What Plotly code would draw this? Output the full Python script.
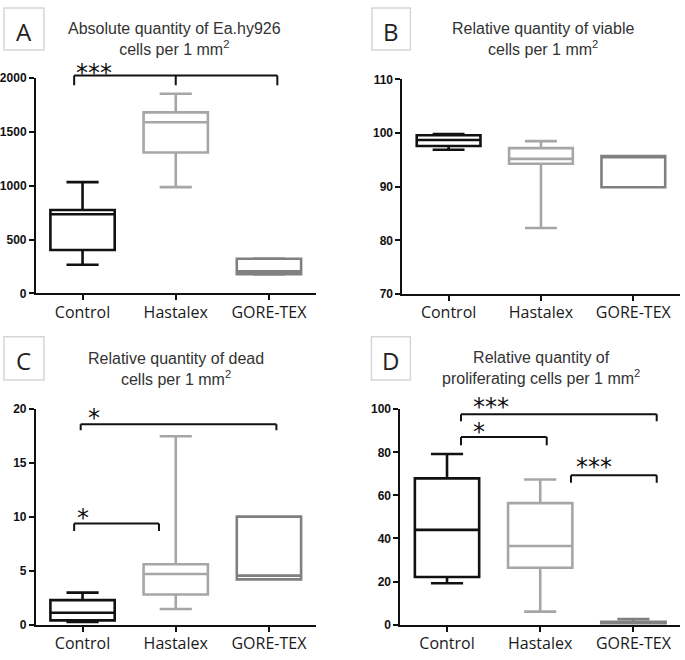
import plotly.graph_objects as go

W, H = 685, 660

categories = ["Control", "Hastalex", "GORE-TEX"]
cat_pos = [0, 1, 2]
line_colors = ["#111111", "#a6a6a6", "#808080"]

# Panel A: absolute quantity
A_min = [267, 988, 176]
A_q1 = [404, 1309, 180]
A_med = [736, 1591, 205]
A_q3 = [776, 1682, 322]
A_max = [1034, 1855, 325]

# Panel B: viable
B_min = [96.9, 82.3, 89.9]
B_q1 = [97.6, 94.3, 89.9]
B_med = [98.7, 95.2, 95.5]
B_q3 = [99.6, 97.2, 95.7]
B_max = [99.8, 98.5, 95.7]

# Panel C: dead
C_min = [0.24, 1.45, 4.2]
C_q1 = [0.39, 2.8, 4.2]
C_med = [1.1, 4.7, 4.55]
C_q3 = [2.27, 5.6, 10.03]
C_max = [2.97, 17.5, 10.03]

# Panel D: proliferating
D_min = [19.2, 6.05, 0.0]
D_q1 = [22.1, 26.4, 0.3]
D_med = [44.0, 36.5, 0.8]
D_q3 = [67.9, 56.4, 1.3]
D_max = [79.2, 67.4, 2.6]

titles = [
    "Absolute quantity of Ea.hy926<br>cells per 1 mm<sup>2</sup>",
    "Relative quantity of viable<br>cells per 1 mm<sup>2</sup>",
    "Relative quantity of dead<br>cells per 1 mm<sup>2</sup>",
    "Relative quantity of<br>proliferating cells per 1 mm<sup>2</sup>",
]
letters = ["A", "B", "C", "D"]
y_ranges = [(0, 2000), (70, 110), (0, 20), (0, 100)]
y_dticks = [500, 10, 5, 20]

# significance brackets: (x_start, x_end, y_bar, y_end, middle ticks)
A_brackets = [(-0.09, 2.09, 2025, 1934, [1])]
A_stars = [("***", 0.12, 2087)]
B_brackets = []
B_stars = []
C_brackets = [(-0.02, 2.08, 18.6, 18.05, []), (-0.09, 0.82, 9.4, 8.7, [])]
C_stars = [("*", 0.12, 19.6), ("*", 0.01, 10.3)]
D_brackets = [(0.15, 2.25, 97.7, 94.4, []), (0.15, 1.07, 87.1, 83.3, []), (1.33, 2.25, 69.4, 65.9, [])]
D_stars = [("***", 0.47, 102.7), ("*", 0.34, 91.4), ("***", 1.575, 75.0)]

panels = [
    (A_min, A_q1, A_med, A_q3, A_max, A_brackets, A_stars),
    (B_min, B_q1, B_med, B_q3, B_max, B_brackets, B_stars),
    (C_min, C_q1, C_med, C_q3, C_max, C_brackets, C_stars),
    (D_min, D_q1, D_med, D_q3, D_max, D_brackets, D_stars),
]

# layout geometry in pixels (left, right, top, bottom) of each plot area
geom = [
    (35, 315, 72.7, 292.7),
    (402, 679.5, 74, 293.3),
    (35, 315, 411, 631),
    (400, 680, 411, 631),
]
title_pos = [(174, 33), (543, 33), (175, 369.5), (541, 369)]
letter_box = [(3, 43, 1, 44), (371.5, 410, 1, 44), (3, 43, 337, 381), (371, 410, 337, 381)]

fig = go.Figure()
layout = dict(
    width=W, height=H,
    margin=dict(l=0, r=0, t=0, b=0),
    paper_bgcolor="white", plot_bgcolor="white",
    showlegend=False,
    shapes=[], annotations=[],
)

for i, (mn, q1, md, q3, mx, brackets, stars) in enumerate(panels):
    n = "" if i == 0 else str(i + 1)
    xa, ya = "x" + n, "y" + n
    for j, cat in enumerate(categories):
        fig.add_trace(go.Box(
            x=[cat_pos[j]], q1=[q1[j]], median=[md[j]], q3=[q3[j]],
            lowerfence=[mn[j]], upperfence=[mx[j]],
            width=0.69, whiskerwidth=0.5,
            line=dict(color=line_colors[j], width=2.6),
            fillcolor="rgba(0,0,0,0)",
            boxpoints=False, name=cat, hoverinfo="skip",
            xaxis=xa, yaxis=ya,
        ))
    l, r, t, b = geom[i]
    y0, y1 = y_ranges[i]
    layout["xaxis" + n] = dict(
        domain=[l / W, r / W], range=[-0.5, 2.5],
        tickvals=cat_pos, ticktext=categories,
        tickfont=dict(family="Open Sans", size=16, color="#1a1a1a"),
        ticklabelstandoff=-2,
        showline=True, linecolor="#111111", linewidth=2,
        ticks="outside", ticklen=5, tickwidth=2, tickcolor="#111111",
        showgrid=False, zeroline=False, anchor=ya, fixedrange=True,
    )
    layout["yaxis" + n] = dict(
        domain=[1 - b / H, 1 - t / H], range=[y0, y1], dtick=y_dticks[i], tick0=y0,
        tickfont=dict(family="Liberation Sans", size=12, color="#111111", weight="bold"),
        showline=True, linecolor="#111111", linewidth=2,
        ticks="outside", ticklen=5, tickwidth=2, tickcolor="#111111",
        showgrid=False, zeroline=False, anchor=xa, fixedrange=True,
    )

    def frac(v):
        return (v - y0) / (y1 - y0)

    for (xs, xe, yb, ye, mids) in brackets:
        segs = [(xs, yb, xe, yb), (xs, yb, xs, ye), (xe, yb, xe, ye)]
        for m in mids:
            segs.append((m, yb, m, ye))
        for (ax0, ay0, ax1, ay1) in segs:
            layout["shapes"].append(dict(
                type="line", xref=xa, yref=ya + " domain",
                x0=ax0, x1=ax1, y0=frac(ay0), y1=frac(ay1),
                line=dict(color="#111111", width=2),
            ))
    for (txt, sx, sy) in stars:
        layout["annotations"].append(dict(
            text=txt, xref=xa, yref=ya + " domain", x=sx, y=frac(sy),
            xanchor="center", yanchor="middle", showarrow=False,
            yshift=-4,
            font=dict(family="DejaVu Sans", size=24, color="#111111"),
        ))

    tx, ty = title_pos[i]
    layout["annotations"].append(dict(
        text=titles[i], xref="paper", yref="paper", x=tx / W, y=1 - ty / H,
        xanchor="center", yanchor="middle", showarrow=False,
        font=dict(family="Liberation Sans", size=16, color="#333333"),
    ))
    bx0, bx1, by0, by1 = letter_box[i]
    layout["shapes"].append(dict(
        type="rect", xref="paper", yref="paper",
        x0=bx0 / W, x1=bx1 / W, y0=1 - by1 / H, y1=1 - by0 / H,
        line=dict(color="#d6d6d6", width=1.5), fillcolor="white",
    ))
    layout["annotations"].append(dict(
        text=letters[i], xref="paper", yref="paper",
        x=(bx0 + bx1) / 2 / W, y=1 - (by0 + by1) / 2 / H,
        xanchor="center", yanchor="middle", showarrow=False, yshift=-2,
        font=dict(family="Open Sans", size=24, color="#222222"),
    ))

fig.update_layout(**layout)
fig.write_html("out.html", config={"displayModeBar": False},
               post_script="document.body.style.margin='0';document.body.style.overflow='hidden';")
